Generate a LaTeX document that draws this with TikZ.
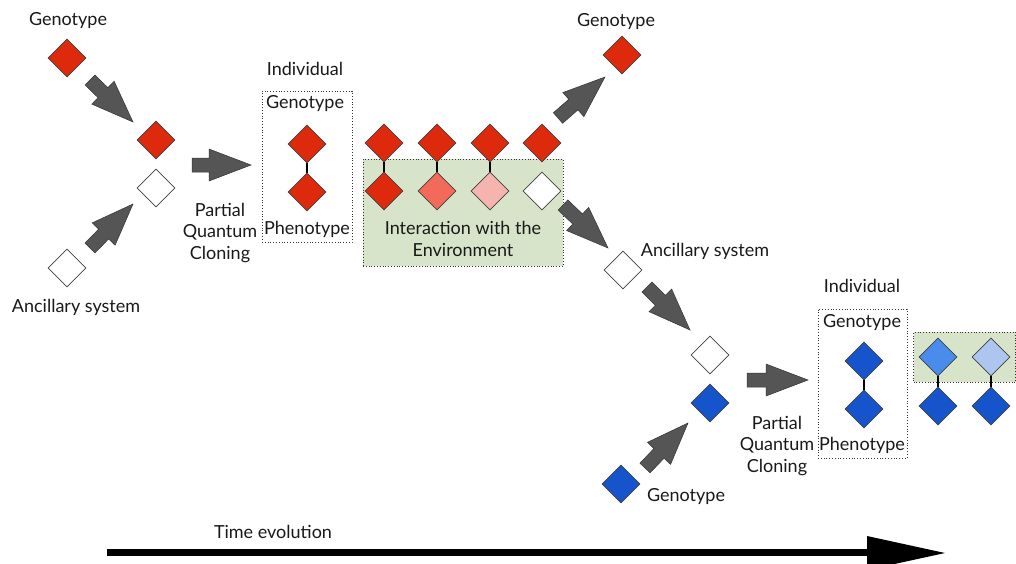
\documentclass[tikz,border=0pt]{standalone}
\usepackage{fontspec}
\setmainfont{Lato}
\usetikzlibrary{shapes.geometric,calc}
\definecolor{gred}{RGB}{222,42,12}
\definecolor{mred}{RGB}{242,106,90}
\definecolor{lred}{RGB}{245,180,174}
\definecolor{gblue}{RGB}{22,84,204}
\definecolor{mblue}{RGB}{74,140,235}
\definecolor{lblue}{RGB}{172,198,240}
\definecolor{envgreen}{RGB}{216,228,202}
\definecolor{agray}{RGB}{85,85,85}
\tikzset{
  dia/.style={diamond, draw=black!75, line width=0.6pt, minimum width=38pt, minimum height=38pt, inner sep=0pt},
  lbl/.style={font=\fontsize{18}{21.5}\selectfont, text=black!90, inner sep=0pt, align=center},
  dotbox/.style={draw=black!80, dotted, line width=0.8pt, inner sep=0pt},
  envbox/.style={dotbox, fill=envgreen},
  link/.style={line width=2.2pt, black},
  barrowstyle/.style={fill=agray, draw=black!80, line width=0.5pt},
}
\newcommand{\blockarrow}[2]{%
  \coordinate (hb) at ($(#2)!42pt!(#1)$);
  \filldraw[barrowstyle]
    ($(#1)!7pt!90:(#2)$) -- ($(hb)!7pt!90:(#2)$) -- ($(hb)!16pt!90:(#2)$) --
    (#2) -- ($(hb)!16pt!-90:(#2)$) -- ($(hb)!7pt!-90:(#2)$) --
    ($(#1)!7pt!-90:(#2)$) -- cycle;}
\begin{document}
\begin{tikzpicture}[x=1pt,y=-1pt]
\useasboundingbox (0,0) rectangle (1016,563);

% boxes
\node[dotbox, minimum width=90pt, minimum height=151pt] (ind1) at (307,166.5) {};
\node[envbox, minimum width=200pt, minimum height=107pt] (env1) at (463,212.5) {};
\node[dotbox, minimum width=89pt, minimum height=149pt] (ind2) at (862.5,383.5) {};
\node[envbox, minimum width=102pt, minimum height=50pt] (env2) at (964.5,357) {};

% left part
\node[lbl] (gen1) at (68,21) {Genotype};
\node[dia, fill=gred] (g1) at (67,58) {};
\node[dia, fill=gred] (g2) at (156,140) {};
\node[dia, fill=white] (a2) at (156,188) {};
\node[dia, fill=white] (a1) at (67,268) {};
\node[lbl] (anc1) at (76,307) {Ancillary system};
\node[lbl] (pqc1) at (220,233) {Partial\\Quantum\\Cloning};

% individual 1
\node[lbl] (indl1) at (305,69) {Individual};
\node[lbl] (ig1l) at (305,104) {Genotype};
\node[dia, fill=gred] (ig1) at (307,144) {};
\node[dia, fill=gred] (ip1) at (307,192) {};
\node[lbl] (ip1l) at (307,229) {Phenotype};
\draw[link] (ig1.south) -- (ip1.north);

% interaction row
\node[dia, fill=gred] (t1) at (384,143) {};
\node[dia, fill=gred] (t2) at (437,143) {};
\node[dia, fill=gred] (t3) at (490,143) {};
\node[dia, fill=gred] (t4) at (542,143) {};
\node[dia, fill=gred] (b1) at (384,191) {};
\node[dia, fill=mred] (b2) at (437,191) {};
\node[dia, fill=lred] (b3) at (490,191) {};
\node[dia, fill=white] (b4) at (542,191) {};
\draw[link] (t1.south) -- (b1.north);
\draw[link] (t2.south) -- (b2.north);
\draw[link] (t3.south) -- (b3.north);
\node[lbl, align=center] (envl1) at (463,239) {Interaction with the\\Environment};

% upper right genotype
\node[lbl] (gen2) at (616,22) {Genotype};
\node[dia, fill=gred] (g3) at (622,55) {};

% ancillary lower
\node[dia, fill=white] (a3) at (623,270) {};
\node[lbl] (anc2) at (705,251) {Ancillary system};
\node[dia, fill=white] (a4) at (710,355) {};
\node[dia, fill=gblue] (g5) at (710,403) {};
\node[dia, fill=gblue] (g4) at (621,484) {};
\node[lbl] (gen3) at (686,497) {Genotype};
\node[lbl] (pqc2) at (777,446) {Partial\\Quantum\\Cloning};

% individual 2
\node[lbl] (indl2) at (862,286) {Individual};
\node[lbl] (ig2l) at (862,323) {Genotype};
\node[dia, fill=gblue] (ig2) at (864,361) {};
\node[dia, fill=gblue] (ip2) at (864,409) {};
\node[lbl] (ip2l) at (862,445) {Phenotype};
\draw[link] (ig2.south) -- (ip2.north);

% environment 2 row
\node[dia, fill=mblue] (u1) at (938,357) {};
\node[dia, fill=lblue] (u2) at (991,357) {};
\node[dia, fill=gblue] (v1) at (938,406) {};
\node[dia, fill=gblue] (v2) at (991,406) {};
\draw[link] (u1.south) -- (v1.north);
\draw[link] (u2.south) -- (v2.north);

% block arrows
\coordinate (s1) at (90,80);   \coordinate (e1) at (133,122);
\coordinate (s2) at (90,248);  \coordinate (e2) at (133,204);
\coordinate (s3) at (192,165); \coordinate (e3) at (251,165);
\coordinate (s4) at (558,118); \coordinate (e4) at (605,77);
\coordinate (s5) at (563,205); \coordinate (e5) at (608,248);
\coordinate (s6) at (647,287); \coordinate (e6) at (690,330);
\coordinate (s7) at (645,468); \coordinate (e7) at (688,423);
\coordinate (s8) at (747,380); \coordinate (e8) at (808,380);
\blockarrow{s1}{e1}
\blockarrow{s2}{e2}
\blockarrow{s3}{e3}
\blockarrow{s4}{e4}
\blockarrow{s5}{e5}
\blockarrow{s6}{e6}
\blockarrow{s7}{e7}
\blockarrow{s8}{e8}

% time evolution
\node[lbl] (tev) at (273,532) {Time evolution};
\coordinate (ts) at (107,552);
\coordinate (te) at (870,552);
\coordinate (tt) at (945,553);
\draw[line width=7pt, black] (ts) -- (te);
\fill[black] ($(te)+(-3,-16)$) -- (tt) -- ($(te)+(-3,18)$) -- cycle;
\end{tikzpicture}
\end{document}
